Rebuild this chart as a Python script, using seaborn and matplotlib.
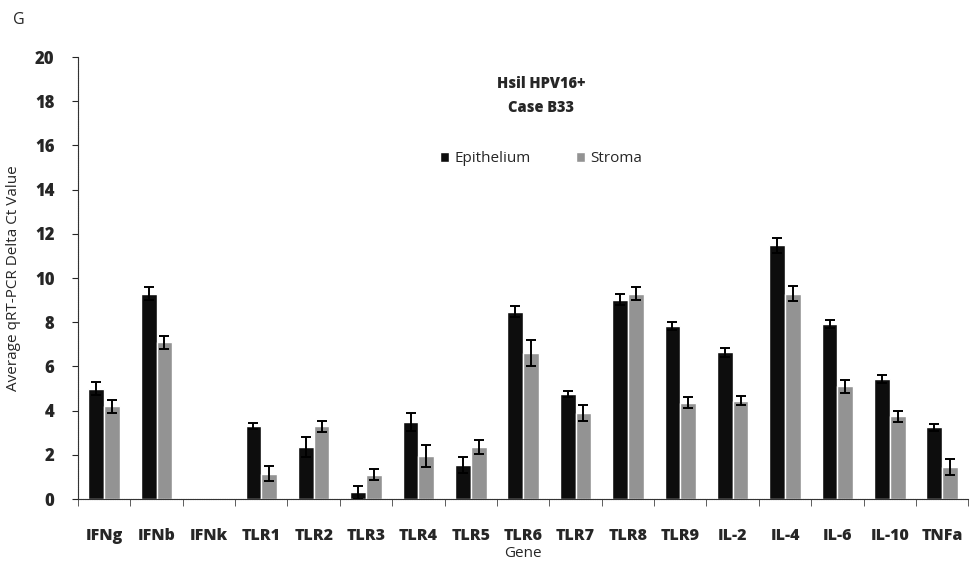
import pandas as pd
import matplotlib as mpl
import matplotlib.pyplot as plt
import seaborn as sns
import numpy as np

genes = ["IFNg", "IFNb", "IFNk", "TLR1", "TLR2", "TLR3", "TLR4", "TLR5", "TLR6",
         "TLR7", "TLR8", "TLR9", "IL-2", "IL-4", "IL-6", "IL-10", "TNFa"]
epithelium = [5.0, 9.3, 0.0, 3.3, 2.35, 0.3, 3.5, 1.55, 8.47, 4.75, 9.03, 7.84, 6.65, 11.48, 7.92, 5.43, 3.25]
epithelium_err = [0.3, 0.3, 0.0, 0.15, 0.45, 0.3, 0.4, 0.35, 0.25, 0.15, 0.25, 0.17, 0.2, 0.35, 0.2, 0.2, 0.15]
stroma = [4.2, 7.1, 0.0, 1.15, 3.3, 1.1, 1.95, 2.35, 6.6, 3.9, 9.3, 4.35, 4.45, 9.3, 5.1, 3.75, 1.45]
stroma_err = [0.3, 0.3, 0.0, 0.35, 0.25, 0.25, 0.5, 0.3, 0.6, 0.35, 0.3, 0.25, 0.2, 0.35, 0.3, 0.25, 0.35]

sns.set_style("white")
plt.rcParams["font.family"] = ["Open Sans", "DejaVu Sans"]

data = pd.DataFrame({
    "Gene": genes * 2,
    "value": epithelium + stroma,
    "Tissue": ["Epithelium"] * len(genes) + ["Stroma"] * len(genes),
})

fig = plt.figure(figsize=(9.71, 5.71), dpi=100)
ax = fig.add_axes([0.0803, 0.126, 0.917, 0.774])

sns.barplot(data=data, x="Gene", y="value", hue="Tissue", order=genes,
            palette={"Epithelium": "#0d0d0d", "Stroma": "#939393"},
            width=0.6, errorbar=None, saturation=1, ax=ax)

# error bars at bar centres taken from the drawn patches
bars = [p for p in ax.patches if p.get_width() > 0][:2 * len(genes)]
errs = epithelium_err + stroma_err
for p, e in zip(bars, errs):
    if p.get_height() == 0:
        continue
    x = p.get_x() + p.get_width() / 2
    ax.errorbar(x, p.get_height(), yerr=e, color="black", capsize=3.5,
                elinewidth=1.4, capthick=1.4, fmt="none")

ax.set_ylim(0, 20)
ax.set_xlim(-0.5, len(genes) - 0.5)
ax.set_yticks(np.arange(0, 21, 2))
ax.set_yticklabels([str(v) for v in range(0, 21, 2)], fontsize=12, fontweight="heavy")
ax.set_xticks(np.arange(len(genes)))
ax.set_xticklabels(genes, fontsize=11.5, fontweight="heavy")
ax.tick_params(axis="x", length=0, pad=21)
ax.tick_params(axis="y", length=4, direction="out", left=True, pad=13)
ax.set_xticks(np.arange(-0.5, len(genes), 1), minor=True)
ax.tick_params(axis="x", which="minor", length=5, direction="out", bottom=True, color="#444")

for s in ["top", "right"]:
    ax.spines[s].set_visible(False)
ax.spines["left"].set_color("#333")
ax.spines["bottom"].set_color("#333")
ax.spines["left"].set_linestyle((0, (1, 0.6)))
ax.spines["bottom"].set_linestyle((0, (1, 0.6)))

ax.set_xlabel("Gene", fontsize=11, labelpad=1)
ax.set_ylabel("Average qRT-PCR Delta Ct Value", fontsize=11, labelpad=10)

ax.text(0.52, 0.94, "Hsil HPV16+", transform=ax.transAxes, ha="center", va="center",
        fontsize=10.5, fontweight="heavy")
ax.text(0.52, 0.885, "Case B33", transform=ax.transAxes, ha="center", va="center",
        fontsize=10.5, fontweight="heavy")

ax.legend(loc="center", bbox_to_anchor=(0.52, 0.77), ncol=2, frameon=False,
          fontsize=11, handlelength=0.6, handleheight=0.6, columnspacing=3,
          handletextpad=0.3, title=None)

fig.text(0.013, 0.965, "G", fontsize=11.5, ha="left", va="center")

plt.savefig("out.png", dpi=100)
plt.close()
